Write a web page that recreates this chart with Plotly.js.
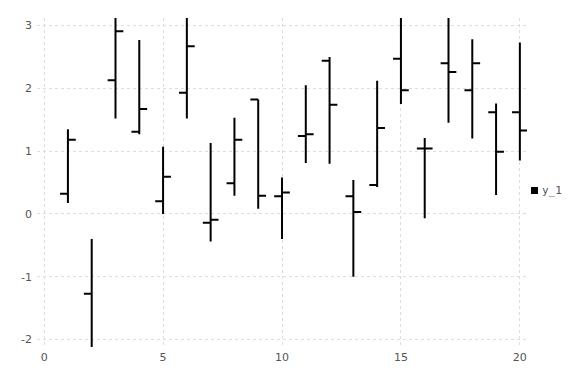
<!DOCTYPE html>
<html>
<head>
<meta charset="utf-8">
<script src="https://cdn.plot.ly/plotly-3.0.1.min.js"></script>
<style>html,body{margin:0;padding:0;background:#fff;}#chart{width:576px;height:384px;}</style>
</head>
<body>
<div id="chart"></div>
<script>
const xs = [1,2,3,4,5,6,7,8,9,10,11,12,13,14,15,16,17,18,19,20];
const openV  = [0.32,-1.27,2.13,1.31,0.20,1.93,-0.14,0.49,1.82,0.28,1.24,2.44,0.28,0.46,2.47,1.04,2.40,1.97,1.62,1.62];
const highV  = [1.35,-0.40,3.20,2.77,1.07,3.20,1.13,1.53,1.82,0.58,2.05,2.50,0.54,2.12,3.20,1.21,3.20,2.78,1.76,2.73];
const lowV   = [0.175,-2.30,1.52,1.27,0.00,1.52,-0.44,0.29,0.08,-0.40,0.81,0.80,-1.00,0.43,1.75,-0.07,1.45,1.20,0.30,0.85];
const closeV = [1.18,-2.20,2.91,1.67,0.59,2.67,-0.095,1.18,0.29,0.34,1.27,1.74,0.03,1.37,1.97,1.04,2.26,2.40,0.99,1.33];
const xTicks = [0,5,10,15,20];
const yTicks = [-2,-1,0,1,2,3];
const seriesName = 'y_1';

const traces = [
  {
    type: 'ohlc', x: xs, open: openV, high: highV, low: lowV, close: closeV,
    name: seriesName,
    increasing: {line: {color: '#000', width: 2}},
    decreasing: {line: {color: '#000', width: 2}},
    tickwidth: 0.33, showlegend: false, hoverinfo: 'skip'
  }
];

const grid = '#dcdce6';
const layout = {
  width: 576, height: 384,
  margin: {l: 37, r: 49, t: 18, b: 37, pad: 0},
  paper_bgcolor: '#fff', plot_bgcolor: '#fff',
  font: {family: 'DejaVu Sans', size: 11, color: '#555'},
  showlegend: false,
  xaxis: {
    range: [-0.3, 20.3], tickvals: xTicks, ticktext: xTicks.map(String),
    showgrid: true, gridcolor: grid, griddash: 'dot', gridwidth: 1,
    zeroline: false, showline: false, ticks: '', rangeslider: {visible: false},
    tickfont: {size: 11, color: '#555'}, ticklabelstandoff: 2
  },
  yaxis: {
    range: [-2.12, 3.12], tickvals: yTicks, ticktext: yTicks.map(String),
    showgrid: true, gridcolor: grid, griddash: 'dot', gridwidth: 1,
    zeroline: false, showline: false, ticks: '', ticklabelstandoff: 4,
    tickfont: {size: 11, color: '#555'}
  },
  shapes: [{
    type: 'rect', xref: 'paper', yref: 'paper',
    x0: (531 - 37) / 490, x1: (538 - 37) / 490,
    y0: (347 - 194) / 329, y1: (347 - 187) / 329,
    fillcolor: '#000', line: {width: 0}
  }],
  annotations: [{
    xref: 'paper', yref: 'paper', x: (540 - 37) / 490, y: (347 - 190) / 329,
    xanchor: 'left', yanchor: 'middle', showarrow: false,
    text: seriesName, font: {family: 'DejaVu Sans Mono', size: 11, color: '#555'}
  }]
};
Plotly.newPlot('chart', traces, layout, {staticPlot: true, displayModeBar: false});
</script>
</body>
</html>
